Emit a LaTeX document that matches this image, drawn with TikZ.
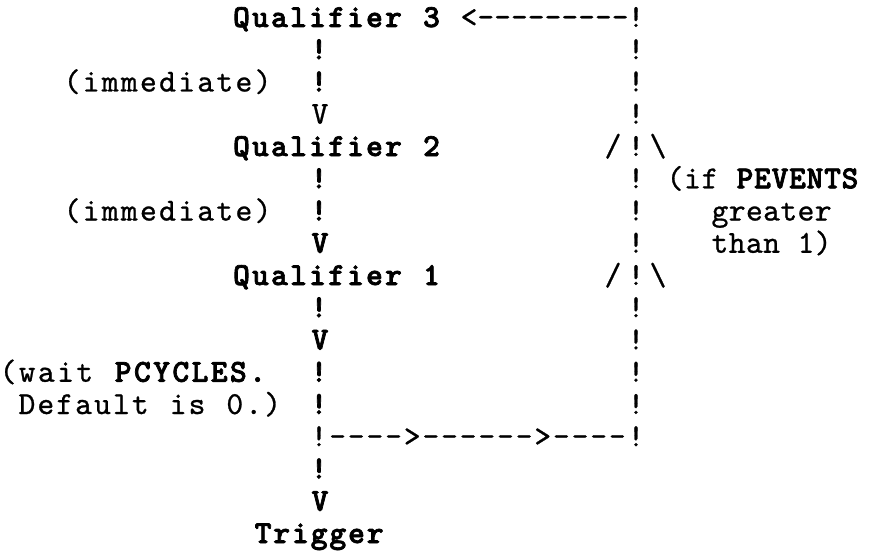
\documentclass[tikz,border=0pt]{standalone}
\usepackage{graphicx}
\usepackage{fontspec}
\newfontfamily\ttreg{lmmono10-regular.otf}[FakeBold=0.8]
\newfontfamily\ttbold{lmmonolt10-bold.otf}[FakeBold=2.2]
\ExplSyntaxOn
\NewDocumentCommand\gw{O{18.65pt}m}{\tl_map_inline:nn{#2}{\makebox[#1][c]{##1}}}
\ExplSyntaxOff
\tikzset{
  txt/.style={inner sep=0pt, outer sep=0pt, font=\fontsize{32}{38}\ttreg, anchor=base west},
  ch/.style={txt, anchor=base},
  heavy/.style={font=\fontsize{32}{38}\ttbold},
}
\begin{document}
\begin{tikzpicture}[x=1pt,y=-1pt]
\fill[white] (0,0) rectangle (884,551);
\useasboundingbox (0,0) rectangle (884,551);
% line 1
\node[txt,heavy] (q3) at (232,27) {\gw[19pt]{Qualifier~3}};
\node[txt] (back) at (460.6,27) {\gw[16.8pt]{<---------}};
\node[ch] (r1) at (636,27) {!};
% line 2
\node[ch,heavy] (l2) at (319,59.25) {!};
\node[ch] (r2) at (636,59.25) {!};
% line 3
\node[txt] (imm1) at (62.5,91.5) {\gw[19.1pt]{(immediate)}};
\node[ch,heavy] (l3) at (319,91.5) {!};
\node[ch] (r3) at (636,91.5) {!};
% line 4
\node[ch] (v4) at (320,123.75) {V};
\node[ch] (r4) at (636,123.75) {!};
% line 5
\node[txt,heavy] (q2) at (232,156) {\gw[19pt]{Qualifier~2}};
\node[ch] (s5) at (613,156) {/};
\node[ch] (r5) at (636,156) {!};
\node[ch] (b5) at (658,156) {\textbackslash};
% line 6
\node[ch,heavy] (l6) at (319,188.25) {!};
\node[ch] (r6) at (636,188.25) {!};
\node[txt] (ifp) at (666.25,188.25) {\gw[17.5pt]{(if~}\ttbold\gw[17.5pt]{PEVENTS}};
% line 7
\node[txt] (imm2) at (62.5,220.5) {\gw[19.1pt]{(immediate)}};
\node[ch,heavy] (l7) at (319,220.5) {!};
\node[ch] (r7) at (636,220.5) {!};
\node[txt] (gr) at (711.4,220.5) {\gw[17.2pt]{greater}};
% line 8
\node[ch,heavy] (v8) at (320,252.75) {V};
\node[ch] (r8) at (636,252.75) {!};
\node[txt] (th) at (711.4,252.75) {\gw[17.2pt]{than~1)}};
% line 9
\node[txt,heavy] (q1) at (232,285) {\gw[19pt]{Qualifier~1}};
\node[ch] (s9) at (613,285) {/};
\node[ch] (r9) at (636,285) {!};
\node[ch] (b9) at (658,285) {\textbackslash};
% line 10
\node[ch,heavy] (l10) at (319,317.25) {!};
\node[ch] (r10) at (636,317.25) {!};
% line 11
\node[ch,heavy] (v11) at (320,349.5) {V};
\node[ch] (r11) at (636,349.5) {!};
% line 12
\node[txt] (wait) at (-1.6,381.75) {\gw[19.2pt]{(wait~}\ttbold\gw[19.2pt]{PCYCLES.}};
\node[ch,heavy] (l12) at (319,381.75) {!};
\node[ch] (r12) at (636,381.75) {!};
% line 13
\node[txt] (def) at (17.5,414) {\gw[18.9pt]{Default~is~0.)}};
\node[ch,heavy] (l13) at (319,414) {!};
\node[ch] (r13) at (636,414) {!};
% line 14
\node[ch] (l14) at (319,446.25) {!};
\node[txt] (fwd) at (328.3,446.25) {\gw{---->------>----}};
\node[ch] (r14) at (636,446.25) {!};
% line 15
\node[ch,heavy] (l15) at (319,478.5) {!};
% line 16
\node[ch,heavy] (v16) at (320,510.75) {V};
% line 17
\node[txt,heavy] (trig) at (253.7,543) {\gw[18.7pt]{Trigger}};
\end{tikzpicture}
\end{document}
